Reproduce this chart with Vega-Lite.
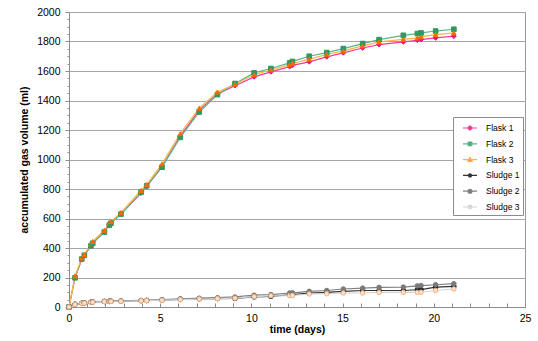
{
  "$schema": "https://vega.github.io/schema/vega-lite/v6.json",
  "width": 456,
  "height": 295,
  "autosize": {"type": "none"},
  "padding": {"left": 69, "top": 12, "right": 13, "bottom": 34},
  "background": "white",
  "config": {"font": "Liberation Sans", "view": {"stroke": "#9a9a9a", "strokeWidth": 1}},
  "data": {"values": [
    {"t": 0, "Flask 1": 0, "Flask 2": 0, "Flask 3": 0, "Sludge 1": 0, "Sludge 2": 0, "Sludge 3": 0},
    {"t": 0.33, "Flask 1": 200, "Flask 2": 198, "Flask 3": 210, "Sludge 1": 18, "Sludge 2": 20, "Sludge 3": 17},
    {"t": 0.7, "Flask 1": 322, "Flask 2": 325, "Flask 3": 332, "Sludge 1": 25, "Sludge 2": 27, "Sludge 3": 24},
    {"t": 0.84, "Flask 1": 348, "Flask 2": 350, "Flask 3": 356, "Sludge 1": 27, "Sludge 2": 29, "Sludge 3": 26},
    {"t": 1.2, "Flask 1": 418, "Flask 2": 415, "Flask 3": 428, "Sludge 1": 32, "Sludge 2": 34, "Sludge 3": 31},
    {"t": 1.3, "Flask 1": 435, "Flask 2": 432, "Flask 3": 444, "Sludge 1": 34, "Sludge 2": 36, "Sludge 3": 33},
    {"t": 1.94, "Flask 1": 512, "Flask 2": 508, "Flask 3": 520, "Sludge 1": 37, "Sludge 2": 39, "Sludge 3": 36},
    {"t": 2.21, "Flask 1": 560, "Flask 2": 555, "Flask 3": 568, "Sludge 1": 38, "Sludge 2": 40, "Sludge 3": 37},
    {"t": 2.3, "Flask 1": 570, "Flask 2": 568, "Flask 3": 578, "Sludge 1": 39, "Sludge 2": 41, "Sludge 3": 38},
    {"t": 2.85, "Flask 1": 630, "Flask 2": 630, "Flask 3": 640, "Sludge 1": 40, "Sludge 2": 42, "Sludge 3": 39},
    {"t": 3.95, "Flask 1": 772, "Flask 2": 778, "Flask 3": 790, "Sludge 1": 43, "Sludge 2": 45, "Sludge 3": 42},
    {"t": 4.26, "Flask 1": 818, "Flask 2": 822, "Flask 3": 830, "Sludge 1": 44, "Sludge 2": 46, "Sludge 3": 43},
    {"t": 5.1, "Flask 1": 952, "Flask 2": 948, "Flask 3": 970, "Sludge 1": 47, "Sludge 2": 50, "Sludge 3": 46},
    {"t": 6.1, "Flask 1": 1158, "Flask 2": 1150, "Flask 3": 1175, "Sludge 1": 52, "Sludge 2": 56, "Sludge 3": 50},
    {"t": 7.14, "Flask 1": 1335, "Flask 2": 1322, "Flask 3": 1348, "Sludge 1": 55, "Sludge 2": 60, "Sludge 3": 54},
    {"t": 8.14, "Flask 1": 1445, "Flask 2": 1440, "Flask 3": 1458, "Sludge 1": 57, "Sludge 2": 63, "Sludge 3": 57},
    {"t": 9.1, "Flask 1": 1500, "Flask 2": 1515, "Flask 3": 1510, "Sludge 1": 58, "Sludge 2": 68, "Sludge 3": 60},
    {"t": 10.15, "Flask 1": 1560, "Flask 2": 1587, "Flask 3": 1575, "Sludge 1": 68, "Sludge 2": 80, "Sludge 3": 70},
    {"t": 11.07, "Flask 1": 1594, "Flask 2": 1617, "Flask 3": 1607, "Sludge 1": 72, "Sludge 2": 84, "Sludge 3": 76},
    {"t": 12.1, "Flask 1": 1630, "Flask 2": 1655, "Flask 3": 1643, "Sludge 1": 83, "Sludge 2": 95, "Sludge 3": 77},
    {"t": 12.25, "Flask 1": 1638, "Flask 2": 1665, "Flask 3": 1651, "Sludge 1": 84, "Sludge 2": 96, "Sludge 3": 78},
    {"t": 13.17, "Flask 1": 1662, "Flask 2": 1700, "Flask 3": 1680, "Sludge 1": 95, "Sludge 2": 106, "Sludge 3": 88},
    {"t": 14.13, "Flask 1": 1696, "Flask 2": 1725, "Flask 3": 1712, "Sludge 1": 99, "Sludge 2": 112, "Sludge 3": 90},
    {"t": 15.04, "Flask 1": 1723, "Flask 2": 1752, "Flask 3": 1736, "Sludge 1": 106, "Sludge 2": 122, "Sludge 3": 95},
    {"t": 16.1, "Flask 1": 1756, "Flask 2": 1786, "Flask 3": 1770, "Sludge 1": 112, "Sludge 2": 128, "Sludge 3": 95},
    {"t": 17.0, "Flask 1": 1779, "Flask 2": 1813, "Flask 3": 1797, "Sludge 1": 112, "Sludge 2": 133, "Sludge 3": 99},
    {"t": 18.33, "Flask 1": 1797, "Flask 2": 1842, "Flask 3": 1815, "Sludge 1": 112, "Sludge 2": 135, "Sludge 3": 99},
    {"t": 19.1, "Flask 1": 1808, "Flask 2": 1854, "Flask 3": 1824, "Sludge 1": 117, "Sludge 2": 143, "Sludge 3": 99},
    {"t": 19.3, "Flask 1": 1813, "Flask 2": 1858, "Flask 3": 1831, "Sludge 1": 118, "Sludge 2": 145, "Sludge 3": 100},
    {"t": 20.1, "Flask 1": 1824, "Flask 2": 1871, "Flask 3": 1847, "Sludge 1": 135, "Sludge 2": 151, "Sludge 3": 112},
    {"t": 21.1, "Flask 1": 1836, "Flask 2": 1883, "Flask 3": 1858, "Sludge 1": 140, "Sludge 2": 158, "Sludge 3": 122}
  ]},
  "transform": [
    {"fold": ["Flask 1", "Flask 2", "Flask 3", "Sludge 1", "Sludge 2", "Sludge 3"], "as": ["s", "v"]}
  ],
  "encoding": {
    "x": {
      "field": "t", "type": "quantitative",
      "scale": {"domain": [0, 25], "nice": false},
      "axis": {
        "title": "time (days)",
        "values": [0,1,2,3,4,5,6,7,8,9,10,11,12,13,14,15,16,17,18,19,20,21,22,23,24,25],
        "labelExpr": "datum.value % 5 === 0 ? datum.label : ''",
        "grid": false,
        "tickSize": -4,
        "tickColor": "#8c8c8c",
        "domainColor": "#8c8c8c",
        "labelFlush": false,
        "labelFontSize": 10.5,
        "labelColor": "black",
        "labelPadding": 10,
        "titleFontSize": 10.5,
        "titleFontWeight": "bold",
        "titleColor": "black",
        "titlePadding": 1
      }
    },
    "y": {
      "field": "v", "type": "quantitative",
      "scale": {"domain": [0, 2000], "nice": false},
      "axis": {
        "title": "accumulated gas volume (ml)",
        "values": [0,50,100,150,200,250,300,350,400,450,500,550,600,650,700,750,800,850,900,950,1000,1050,1100,1150,1200,1250,1300,1350,1400,1450,1500,1550,1600,1650,1700,1750,1800,1850,1900,1950,2000],
        "labelExpr": "datum.value % 200 === 0 ? datum.label : ''",
        "format": "d",
        "grid": true,
        "gridColor": "#a6a6a6",
        "gridOpacity": {"condition": {"test": "datum.value % 200 === 0", "value": 1}, "value": 0},
        "tickSize": {"condition": {"test": "datum.value % 200 === 0", "value": 4}, "value": 2},
        "tickColor": "#8c8c8c",
        "domainColor": "#8c8c8c",
        "labelFlush": false,
        "labelFontSize": 10.5,
        "labelColor": "black",
        "labelPadding": 5,
        "titleFontSize": 10.5,
        "titleFontWeight": "bold",
        "titleColor": "black",
        "titlePadding": 7
      }
    }
  },
  "layer": [
    {
      "mark": {"type": "line", "strokeWidth": 1.2},
      "encoding": {
        "stroke": {
          "field": "s", "type": "nominal", "legend": null,
          "scale": {"domain": ["Flask 1", "Flask 2", "Flask 3", "Sludge 1", "Sludge 2", "Sludge 3"],
                    "range": ["#ee3c96", "#5bb58a", "#ffb347", "#333333", "#808080", "#d4d4d4"]}
        }
      }
    },
    {
      "mark": {"type": "point", "filled": true, "strokeWidth": 1, "opacity": 1},
      "encoding": {
        "shape": {
          "field": "s", "type": "nominal", "legend": null,
          "scale": {"domain": ["Flask 1", "Flask 2", "Flask 3", "Sludge 1", "Sludge 2", "Sludge 3"],
                    "range": ["diamond", "square", "triangle-up", "circle", "circle", "circle"]}
        },
        "fill": {
          "field": "s", "type": "nominal", "legend": null,
          "scale": {"domain": ["Flask 1", "Flask 2", "Flask 3", "Sludge 1", "Sludge 2", "Sludge 3"],
                    "range": ["#e8167f", "#2e9960", "#ff6a00", "#222222", "#7a7a7a", "#fbe3cd"]}
        },
        "stroke": {
          "field": "s", "type": "nominal", "legend": null,
          "scale": {"domain": ["Flask 1", "Flask 2", "Flask 3", "Sludge 1", "Sludge 2", "Sludge 3"],
                    "range": ["#e8167f", "#2e9960", "#ff6a00", "#222222", "#7a7a7a", "#f4b183"]}
        },
        "size": {
          "field": "s", "type": "nominal", "legend": null,
          "scale": {"domain": ["Flask 1", "Flask 2", "Flask 3", "Sludge 1", "Sludge 2", "Sludge 3"],
                    "range": [22, 20, 24, 16, 36, 34]}
        }
      }
    },
    {
      "mark": {"type": "point", "filled": true, "opacity": 0, "strokeWidth": 1.2},
      "encoding": {
        "shape": {
          "field": "s", "type": "nominal",
          "scale": {"domain": ["Flask 1", "Flask 2", "Flask 3", "Sludge 1", "Sludge 2", "Sludge 3"],
                    "range": [
                      "M-1,0H1M-0.32,0L0,-0.32L0.32,0L0,0.32Z",
                      "M-1,0H1M-0.26,-0.26H0.26V0.26H-0.26Z",
                      "M-1,0H1M0,-0.34L0.32,0.26H-0.32Z",
                      "M-1,0H1M0.22,0A0.22,0.22,0,1,1,-0.22,0A0.22,0.22,0,1,1,0.22,0",
                      "M-1,0H1M0.28,0A0.28,0.28,0,1,1,-0.28,0A0.28,0.28,0,1,1,0.28,0",
                      "M-1,0H1M0.26,0A0.26,0.26,0,1,1,-0.26,0A0.26,0.26,0,1,1,0.26,0"
                    ]},
          "legend": {
            "orient": "none", "legendX": 384, "legendY": 105,
            "title": null,
            "strokeColor": "#8c8c8c", "fillColor": "white",
            "padding": 3,
            "symbolSize": 196,
            "symbolOffset": 6,
            "symbolStrokeWidth": 1.2,
            "symbolOpacity": 1,
            "labelOffset": 8,
            "labelFontSize": 8.5,
            "labelColor": "black",
            "rowPadding": 2.8
          }
        },
        "fill": {
          "field": "s", "type": "nominal",
          "scale": {"domain": ["Flask 1", "Flask 2", "Flask 3", "Sludge 1", "Sludge 2", "Sludge 3"],
                    "range": ["#e8167f", "#2e9960", "#ff6a00", "#222222", "#7a7a7a", "#fbe3cd"]}
        },
        "stroke": {
          "field": "s", "type": "nominal",
          "scale": {"domain": ["Flask 1", "Flask 2", "Flask 3", "Sludge 1", "Sludge 2", "Sludge 3"],
                    "range": ["#ee3c96", "#5bb58a", "#ffb347", "#333333", "#808080", "#d4d4d4"]}
        }
      }
    }
  ],
  "resolve": {
    "scale": {"shape": "independent", "fill": "independent", "stroke": "independent", "size": "independent"},
    "legend": {"shape": "independent", "fill": "independent", "stroke": "independent", "size": "independent"}
  }
}
